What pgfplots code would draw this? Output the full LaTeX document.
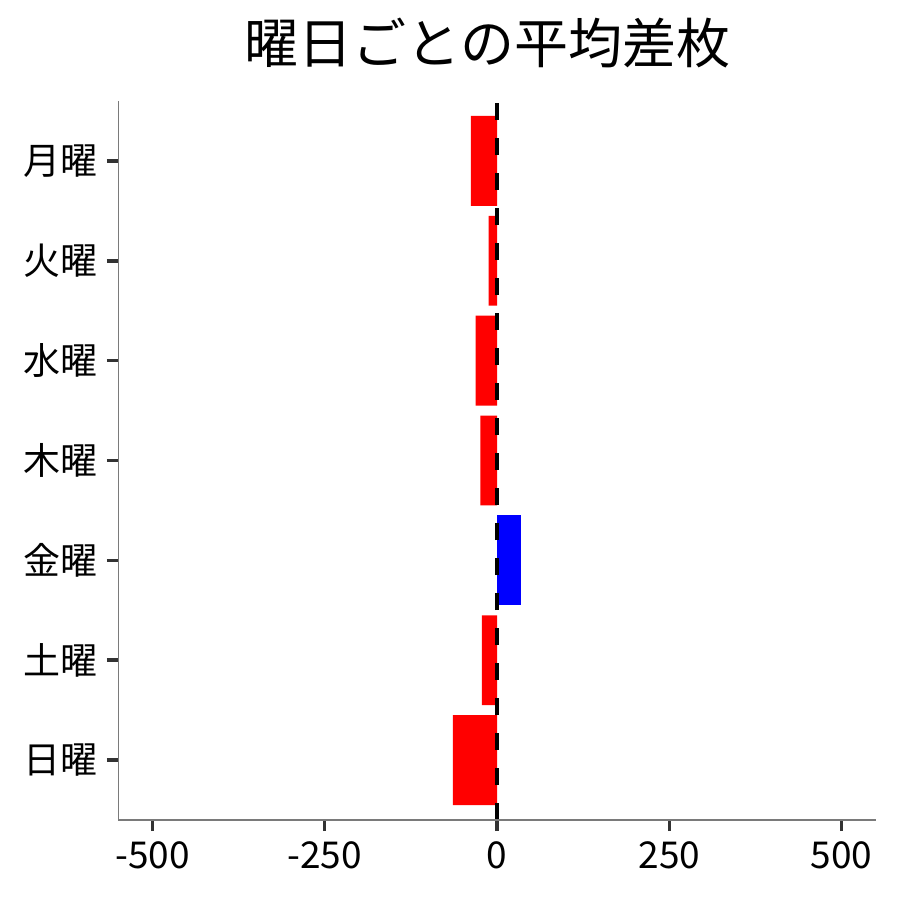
\documentclass[border=0pt]{standalone}
\usepackage{fontspec}
\setmainfont{Noto Sans CJK JP}
\usepackage{pgfplots}
\pgfplotsset{compat=1.18}

\definecolor{spinegray}{HTML}{7A7A7A}
\definecolor{tickgray}{HTML}{333333}

\begin{document}
\begin{tikzpicture}
\path[use as bounding box] (0,0) rectangle (450bp,450bp);
\begin{axis}[
	at={(59bp,40bp)}, anchor=south west,
	scale only axis,
	width=379bp, height=359.5bp,
	xmin=-550, xmax=550,
	ymin=-0.6, ymax=6.6,
	y dir=reverse,
	axis line style={draw=none},
	xtick pos=bottom, ytick pos=left,
	tick align=outside,
	major tick length=5.5bp,
	every tick/.style={color=tickgray, line width=1.75bp},
	xtick={-500,-250,0,250,500},
	ytick={0,1,2,3,4,5,6},
	yticklabels={月曜,火曜,水曜,木曜,金曜,土曜,日曜},
	/pgf/number format/assume math mode=true,
	/pgf/number format/1000 sep={},
	ticklabel style={font=\fontsize{18.5bp}{22bp}\selectfont},
	xticklabel style={yshift=-2bp},
	yticklabel style={xshift=-1bp},
]
% negative averages
\addplot[xbar, bar width=0.9, bar shift=0pt, draw=none, fill=red] coordinates {
	(-38,0) (-12,1) (-31,2) (-24,3) (-22,5) (-64,6)};
% positive average
\addplot[xbar, bar width=0.9, bar shift=0pt, draw=none, fill=blue] coordinates {(35,4)};
% zero reference line
\addplot[black, line width=2bp, dash pattern=on 8.5bp off 9bp, mark=none]
	coordinates {(0,6.6) (0,-0.6)};
% left and bottom spines
\draw[spinegray, line width=0.7bp]
	(rel axis cs:0,1) -- (rel axis cs:0,0) -- (rel axis cs:1,0);
\end{axis}
\node[anchor=base, font=\fontsize{27bp}{30bp}\selectfont] at (243.75bp,418bp) {曜日ごとの平均差枚};
\end{tikzpicture}
\end{document}
